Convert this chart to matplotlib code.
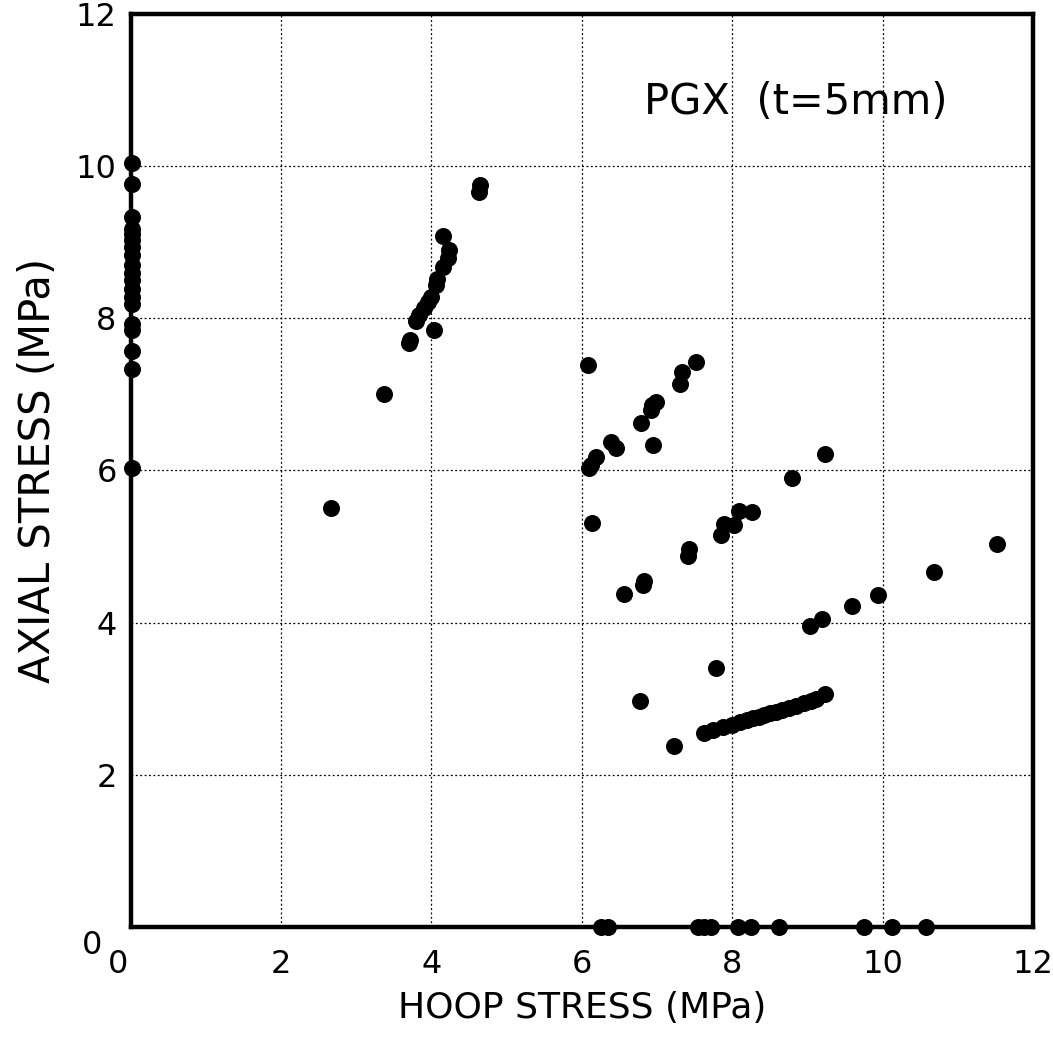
import matplotlib
matplotlib.use("Agg")
import matplotlib.pyplot as plt
from matplotlib.transforms import ScaledTranslation

# Points on the axial axis (hoop ~ 0)
hoop_axis = [0.02] * 19
axial_axis = [10.04, 9.77, 9.33, 9.11, 9.03, 8.94, 8.83, 8.59, 8.50, 8.39, 8.28,
              8.19, 7.93, 7.84, 7.57, 7.33, 6.03, 8.70, 9.18]

# Cluster near hoop 4
hoop_c1 = [4.64, 4.63, 4.16, 4.24, 4.22, 4.15, 4.07, 4.06, 4.00, 3.95, 3.90, 3.84,
           3.80, 4.03, 3.71, 3.70, 3.37, 2.66]
axial_c1 = [9.75, 9.66, 9.08, 8.90, 8.79, 8.68, 8.52, 8.44, 8.28, 8.22, 8.13, 8.04,
            7.97, 7.85, 7.71, 7.67, 7.01, 5.51]

# Cluster 6-7.5
hoop_c2 = [6.08, 7.52, 7.33, 7.30, 6.99, 6.94, 6.92, 6.79, 6.95, 6.39, 6.45, 6.19,
           6.12, 6.10, 6.14]
axial_c2 = [7.38, 7.42, 7.30, 7.14, 6.90, 6.86, 6.79, 6.63, 6.33, 6.38, 6.29, 6.18,
            6.07, 6.03, 5.31]

# Cluster around axial 4-6
hoop_c3 = [9.23, 8.80, 8.09, 8.26, 7.89, 8.03, 7.85, 7.42, 7.41, 6.83, 6.82, 6.56,
           9.59, 9.20, 9.03, 9.94, 10.68, 11.52]
axial_c3 = [6.22, 5.90, 5.47, 5.45, 5.30, 5.28, 5.15, 4.97, 4.87, 4.55, 4.50, 4.38,
            4.22, 4.05, 3.96, 4.36, 4.67, 5.04]

# Lower line around axial 2.5-3
hoop_c4 = [7.79, 6.77, 7.22, 9.24, 7.62, 7.75, 7.88, 8.00, 8.10, 8.20, 8.28, 8.35,
           8.42, 8.50, 8.58, 8.66, 8.75, 8.85, 8.95, 9.05, 9.12]
axial_c4 = [3.41, 2.97, 2.38, 3.06, 2.55, 2.59, 2.63, 2.66, 2.69, 2.72, 2.74, 2.76,
            2.78, 2.81, 2.83, 2.85, 2.88, 2.91, 2.94, 2.97, 2.99]

# Points on the hoop axis (axial = 0)
hoop_zero = [6.25, 6.35, 7.55, 7.63, 7.72, 8.08, 8.25, 8.62, 9.75, 10.13, 10.58]
axial_zero = [0.0] * 11

ticks = [0, 2, 4, 6, 8, 10, 12]

fig = plt.figure(figsize=(10.53, 10.42), dpi=100)
ax = fig.add_axes([0.124, 0.1104, 0.857, 0.8762])

for hx, ay in [(hoop_axis, axial_axis), (hoop_c1, axial_c1), (hoop_c2, axial_c2),
               (hoop_c3, axial_c3), (hoop_c4, axial_c4), (hoop_zero, axial_zero)]:
    ax.scatter(hx, ay, s=150, color="black", zorder=4, clip_on=False, linewidths=0)

ax.set_xlim(0, 12)
ax.set_ylim(0, 12)
ax.set_xticks(ticks)
ax.set_yticks(ticks)
ax.set_xticklabels([str(t) for t in ticks])
ax.set_yticklabels([str(t) for t in ticks])
ax.grid(True, color="black", linestyle=(0, (1.5, 2)), linewidth=0.9)
ax.set_axisbelow(True)
for sp in ax.spines.values():
    sp.set_linewidth(3.2)
    sp.set_zorder(3)
ax.tick_params(axis="x", length=0, labelsize=23, pad=16)
ax.tick_params(axis="y", length=0, labelsize=23, pad=10)

# offset the two "0" labels as in the reference
xl0 = ax.get_xticklabels()[0]
xl0.set_transform(xl0.get_transform() + ScaledTranslation(-13 / 100, 0, fig.dpi_scale_trans))
yl0 = ax.get_yticklabels()[0]
yl0.set_transform(yl0.get_transform() + ScaledTranslation(-14 / 100, -15 / 100, fig.dpi_scale_trans))

ax.set_xlabel("HOOP STRESS (MPa)", fontsize=26, labelpad=8)
ax.set_ylabel("AXIAL STRESS (MPa)", fontsize=30, labelpad=12)
ax.text(0.737, 0.904, "PGX  (t=5mm)", transform=ax.transAxes, fontsize=30,
        ha="center", va="center")

fig.savefig("out.png", dpi=100)
